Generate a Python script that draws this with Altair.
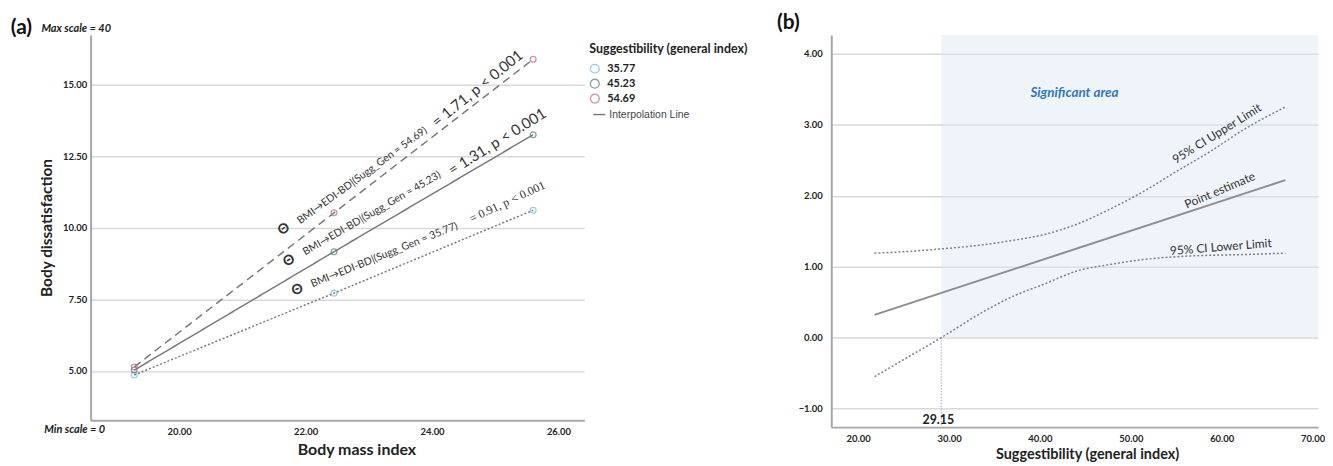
import altair as alt
import pandas as pd

# ---------------- panel (a) data ----------------
bmi_values = [19.29, 22.45, 25.60]
sugg_levels = ["35.77", "45.23", "54.69"]
bd_sugg_35 = [4.86, 7.72, 10.62]
bd_sugg_45 = [5.03, 9.17, 13.26]
bd_sugg_54 = [5.14, 10.53, 15.90]
level_colors = ["#6cbddb", "#4f7d7a", "#c4628f"]
line_dashes = [[2, 2], [1, 0], [8, 5]]
a_x_ticks = [20, 22, 24, 26]
a_y_ticks = [5.0, 7.5, 10.0, 12.5, 15.0]

# slope annotations of panel (a)
ann_levels = ["54.69", "45.23", "35.77"]
ann_slopes = ["1.71", "1.31", "0.91"]
theta_bmi = [21.66, 21.74, 21.87]
theta_bd = [9.96, 8.85, 7.83]
small_bmi = [21.89, 21.97, 22.09]
small_bd = [10.21, 9.13, 8.02]
small_angle = [324, 330, 338]
big_bmi = [24.03, 24.28, 24.60]
big_bd = [13.65, 11.98, 10.31]
big_angle = [321, 328, 335]

# ---------------- panel (b) data ----------------
pe_sugg = [21.8, 67.0]
pe_effect = [0.32, 2.22]
ci_sugg = [21.8, 25.0, 29.15, 33.85, 37.0, 40.4, 44.1, 47.7, 51.4, 55.0, 58.7, 62.4, 67.0]
ci_upper = [1.19, 1.21, 1.25, 1.31, 1.37, 1.45, 1.60, 1.81, 2.06, 2.34, 2.62, 2.93, 3.25]
ci_lower = [-0.55, -0.31, 0.00, 0.37, 0.58, 0.75, 0.94, 1.03, 1.10, 1.14, 1.16, 1.17, 1.19]
jn_value = 29.15
jn_label_effect = -1.16
b_x_ticks = [20, 30, 40, 50, 60, 70]
b_y_ticks = [-1, 0, 1, 2, 3, 4]
b_labels = ["95% CI Upper Limit", "Point estimate", "95% CI Lower Limit"]
b_label_sugg = [59.47, 59.8, 59.9]
b_label_effect = [2.875, 2.076, 1.276]
b_label_angle = [328, 337, 355.5]
sig_text = ["Significant area"]
sig_sugg = [43.8]
sig_effect = [3.45]

FONT = "Lato"
A_W, A_H = 496, 387
B_W, B_H = 489, 394

# ---------------- panel (a) ----------------
sugg_col = [s for s in sugg_levels for _ in bmi_values]
df_a = pd.DataFrame({
    "bmi": bmi_values * 3,
    "bd": bd_sugg_35 + bd_sugg_45 + bd_sugg_54,
    "sugg": sugg_col,
    "sugg_line": sugg_col,
    "lt": ["Interpolation Line"] * 9,
})

sx_a = alt.Scale(domain=[18.6, 26.41], nice=False, zero=False)
sy_a = alt.Scale(domain=[3.28, 16.75], nice=False, zero=False)
ax_xa = alt.Axis(values=a_x_ticks, format=".2f", title="Body mass index", grid=False,
                 ticks=False, labelPadding=6, titlePadding=6, titleFontSize=16,
                 titleX=267, labelFlush=False)
ax_ya = alt.Axis(values=a_y_ticks, format=".2f", title="Body dissatisfaction", grid=True,
                 ticks=False, labelPadding=4, titlePadding=8, titleFontSize=15.5)


def xa():
    return alt.X("bmi:Q", scale=sx_a, axis=ax_xa)


def ya():
    return alt.Y("bd:Q", scale=sy_a, axis=ax_ya)


lines_a = alt.Chart(df_a).mark_line(color="#7a7a7a").encode(
    x=xa(), y=ya(),
    strokeWidth=alt.StrokeWidth("lt:N",
                                scale=alt.Scale(type="ordinal", domain=["Interpolation Line"], range=[1.5]),
                                legend=alt.Legend(title=None, orient="none", legendX=504, legendY=73,
                                                  symbolType="stroke", symbolSize=144,
                                                  symbolStrokeColor="#7a7a7a",
                                                  labelFont="Liberation Sans", labelFontSize=10.5,
                                                  labelColor="#444", labelOffset=3, padding=0)),
    strokeDash=alt.StrokeDash("sugg_line:N", scale=alt.Scale(range=line_dashes), legend=None),
    detail="sugg_line:N",
)

points_a = alt.Chart(df_a).mark_point(filled=False, shape="circle", size=34, strokeWidth=1.3).encode(
    x=xa(), y=ya(),
    color=alt.Color("sugg:N", scale=alt.Scale(domain=sugg_levels, range=level_colors),
                    legend=alt.Legend(title="Suggestibility (general index)", orient="none",
                                      legendX=501, legendY=8, titleFont=FONT, titleFontSize=12.5,
                                      titleFontWeight="bold", titleColor="#222", titlePadding=8,
                                      labelFont=FONT, labelFontSize=11, labelFontWeight="bold",
                                      labelColor="#222", symbolType="circle", symbolSize=80,
                                      symbolStrokeWidth=1.3, rowPadding=0, labelOffset=7,
                                      padding=0)),
)

df_theta = pd.DataFrame({"bmi": theta_bmi, "bd": theta_bd, "label": ["Θ"] * 3, "angle": small_angle})
df_small = pd.DataFrame({"bmi": small_bmi, "bd": small_bd,
                         "label": [f"BMI→EDI-BD|(Sugg_Gen = {v})" for v in ann_levels],
                         "angle": small_angle})
df_big = pd.DataFrame({"bmi": big_bmi, "bd": big_bd,
                       "label": [f"= {s}, p < 0.001" for s in ann_slopes],
                       "angle": big_angle})

theta_a = alt.Chart(df_theta).mark_text(font=FONT, fontWeight="bold", fontSize=14, color="#333",
                                        align="center", baseline="middle").encode(
    x=xa(), y=ya(), text="label:N", angle=alt.Angle("angle:Q", scale=None))
small_a = alt.Chart(df_small).mark_text(font=FONT, fontSize=10.5, color="#333",
                                        align="left", baseline="middle").encode(
    x=xa(), y=ya(), text="label:N", angle=alt.Angle("angle:Q", scale=None))
big_sans_a = alt.Chart(df_big.iloc[:2]).mark_text(font=FONT, fontSize=15, color="#333",
                                                  align="left", baseline="middle").encode(
    x=xa(), y=ya(), text="label:N", angle=alt.Angle("angle:Q", scale=None))
big_serif_a = alt.Chart(df_big.iloc[2:]).mark_text(font="Liberation Serif", fontSize=12, color="#333",
                                                   align="left", baseline="middle").encode(
    x=xa(), y=ya(), text="label:N", angle=alt.Angle("angle:Q", scale=None))

tag_a = alt.Chart(pd.DataFrame({"t": ["(a)"]})).mark_text(
    font=FONT, fontWeight="bold", fontSize=21, color="#111", align="center", baseline="middle"
).encode(x=alt.value(-69.5), y=alt.value(-7), text="t:N")
max_a = alt.Chart(pd.DataFrame({"t": ["Max scale = 40"]})).mark_text(
    font=FONT, fontWeight="bold", fontStyle="italic", fontSize=11, color="#222",
    align="center", baseline="middle"
).encode(x=alt.value(-14.5), y=alt.value(-6.3), text="t:N")
min_a = alt.Chart(pd.DataFrame({"t": ["Min scale = 0"]})).mark_text(
    font=FONT, fontWeight="bold", fontStyle="italic", fontSize=11, color="#222",
    align="center", baseline="middle"
).encode(x=alt.value(-16), y=alt.value(397), text="t:N")

left = alt.layer(lines_a, points_a, theta_a, small_a, big_sans_a, big_serif_a,
                 tag_a, max_a, min_a).properties(width=A_W, height=A_H)

# ---------------- panel (b) ----------------
sx_b = alt.Scale(domain=[17.04, 70.6], nice=False, zero=False)
sy_b = alt.Scale(domain=[-1.262, 4.266], nice=False, zero=False)
ax_xb = alt.Axis(values=b_x_ticks, format=".2f", title="Suggestibility (general index)", grid=False,
                 ticks=False, labelPadding=6, titlePadding=5, titleFontSize=14.5,
                 titleX=257, labelFlush=False)
ax_yb = alt.Axis(values=b_y_ticks, format=".2f", title=None, grid=True,
                 ticks=False, labelPadding=9)


def xb():
    return alt.X("sugg:Q", scale=sx_b, axis=ax_xb)


def yb():
    return alt.Y("effect:Q", scale=sy_b, axis=ax_yb)


df_pe = pd.DataFrame({"sugg": pe_sugg, "effect": pe_effect})
df_ci = pd.DataFrame({"sugg": ci_sugg * 2, "effect": ci_upper + ci_lower,
                      "band": ["upper"] * len(ci_sugg) + ["lower"] * len(ci_sugg)})
df_jn = pd.DataFrame({"sugg": [jn_value], "effect": [0.0], "lab_effect": [jn_label_effect]})
df_blab = pd.DataFrame({"sugg": b_label_sugg, "effect": b_label_effect, "label": b_labels,
                        "angle": b_label_angle})
df_sig = pd.DataFrame({"sugg": sig_sugg, "effect": sig_effect, "label": sig_text})

shade_b = alt.Chart(df_jn).mark_rect(color="#dce6f3", opacity=0.45).encode(
    x=xb(), x2=alt.value(B_W), y=yb(), y2=alt.value(0))
rule_b = alt.Chart(df_jn).mark_rule(color="#8f93d8", strokeDash=[1, 2], strokeWidth=1.2).encode(
    x=xb(), y=yb(), y2=alt.value(B_H))
jn_text_b = alt.Chart(df_jn).mark_text(font=FONT, fontWeight="bold", fontSize=12.5, color="#222",
                                       dx=-3, align="center", baseline="middle").encode(
    x=xb(), y=alt.Y("lab_effect:Q", scale=sy_b, axis=ax_yb), text=alt.Text("sugg:Q", format=".2f"))
ci_b = alt.Chart(df_ci).mark_line(color="#808080", strokeWidth=1.5, strokeDash=[2, 2],
                                  interpolate="monotone").encode(x=xb(), y=yb(), detail="band:N")
pe_b = alt.Chart(df_pe).mark_line(color="#8e8e8e", strokeWidth=2).encode(x=xb(), y=yb())
lab_b = alt.Chart(df_blab).mark_text(font=FONT, fontSize=12, color="#333",
                                     align="center", baseline="middle").encode(
    x=xb(), y=yb(), text="label:N", angle=alt.Angle("angle:Q", scale=None))
sig_b = alt.Chart(df_sig).mark_text(font=FONT, fontSize=13.5, fontWeight="bold", fontStyle="italic",
                                    color="#2f78c2", align="center", baseline="middle").encode(
    x=xb(), y=yb(), text="label:N")
tag_b = alt.Chart(pd.DataFrame({"t": ["(b)"]})).mark_text(
    font=FONT, fontWeight="bold", fontSize=21, color="#111", align="center", baseline="middle"
).encode(x=alt.value(-43), y=alt.value(-12), text="t:N")

right = alt.layer(shade_b, rule_b, ci_b, pe_b, lab_b, sig_b, jn_text_b, tag_b).properties(
    width=B_W, height=B_H)

chart = alt.hconcat(left, right, spacing=248, bounds="flush").properties(
    padding={"left": 2, "top": 3, "right": 0, "bottom": 0}
).configure_view(stroke=None).configure_axis(
    labelFont=FONT, labelFontWeight="bold", labelFontSize=9.5, labelColor="#222",
    domainColor="#a6a6a6", domainWidth=2, gridColor="#d9d9d9", gridWidth=1.5,
    titleFont=FONT, titleFontWeight="bold", titleColor="#222"
)

chart.save("out.html", embed_options={"renderer": "svg", "actions": False})
